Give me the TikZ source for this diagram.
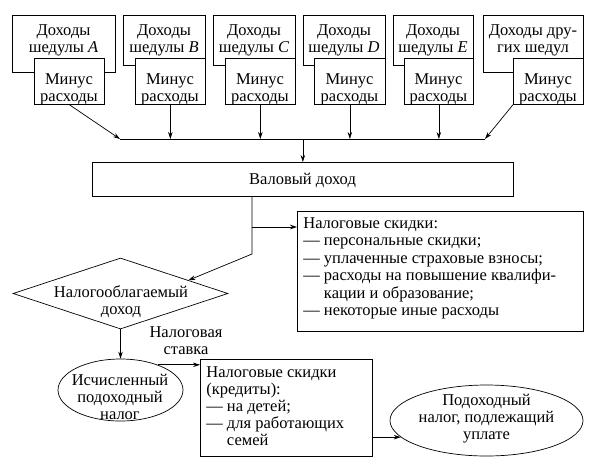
\documentclass[tikz,border=0pt]{standalone}
\usepackage{fontspec}
\setmainfont{Liberation Serif}
\usetikzlibrary{arrows.meta,shapes.geometric,calc}
\newcommand\rnode[6][]{\node[box,anchor=north west,minimum width={(#5-#3)*1pt},minimum height={(#6-#4)*1pt},#1] (#2) at (#3,#4) {};}
\newcommand\tc[1]{\begin{tabular}[t]{@{}c@{}}#1\end{tabular}}
\newcommand\tlft[1]{\begin{tabular}[t]{@{}l@{}}#1\end{tabular}}
\begin{document}
\begin{tikzpicture}[x=1pt,y=-1pt,
  font=\fontsize{16.5}{17}\selectfont,
  line width=0.7pt,
  box/.style={draw,fill=white,inner sep=0pt},
  txt/.style={inner sep=0pt,anchor=base},
  ltxt/.style={inner sep=0pt,anchor=base west},
  arr/.style={-{Stealth[length=7pt,width=4.5pt]}}]
\useasboundingbox (0,0) rectangle (608,467);
% schedule blocks
\rnode{oA}{12}{15}{115}{72}
\node[txt] (tA) at (63.5,35) {\tc{Доходы\\шедулы \textit{A}}};
\rnode{mA}{34}{58}{104}{104}
\node[txt] (uA) at (69,84) {\tc{Минус\\расходы}};
\rnode{oB}{123}{15}{205}{65}
\node[txt] (tB) at (164,35) {\tc{Доходы\\шедулы \textit{B}}};
\rnode{mB}{135}{58}{205}{104}
\node[txt] (uB) at (170,84) {\tc{Минус\\расходы}};
\rnode{oC}{213}{15}{295}{65}
\node[txt] (tC) at (254,35) {\tc{Доходы\\шедулы \textit{C}}};
\rnode{mC}{225}{58}{295}{104}
\node[txt] (uC) at (260,84) {\tc{Минус\\расходы}};
\rnode{oD}{303}{15}{385}{65}
\node[txt] (tD) at (344,35) {\tc{Доходы\\шедулы \textit{D}}};
\rnode{mD}{314}{58}{385}{104}
\node[txt] (uD) at (349.5,84) {\tc{Минус\\расходы}};
\rnode{oE}{393}{15}{473}{65}
\node[txt] (tE) at (433,35) {\tc{Доходы\\шедулы \textit{E}}};
\rnode{mE}{404}{58}{473}{104}
\node[txt] (uE) at (438.5,84) {\tc{Минус\\расходы}};
\rnode{oO}{483}{15}{583}{72}
\node[txt] (tO) at (533,35) {\tc{Доходы дру-\\гих шедул}};
\rnode{mO}{513}{58}{583}{104}
\node[txt] (uO) at (548,84) {\tc{Минус\\расходы}};
% collector line
\coordinate (L1) at (120,139);
\coordinate (L2) at (485,139);
\draw (L1) -- (L2);
\draw[arr] (mA.south) -- (L1);
\foreach \n in {mB,mC,mD,mE} \draw[arr] (\n.south) -- (\n.south |- L1);
\draw[arr] (mO.south west) -- (L2);
% gross income
\rnode{val}{92}{162}{513}{196}
\node[txt] (tval) at (302.5,184) {Валовый доход};
\draw[arr] (val.north |- L1) -- (val.north);
% deductions box
\rnode{ded}{297}{211}{583}{331}
\node[ltxt,font=\fontsize{16.5}{17.5}\selectfont] (tded) at (303,228) {\tlft{Налоговые скидки:\\
— персональные скидки;\\
— уплаченные страховые взносы;\\
— расходы на повышение квалифи-\\
\phantom{— }кации и образование;\\
— некоторые иные расходы}};
% diamond
\node[draw,diamond,inner sep=0pt,minimum width=215pt,minimum height=71pt] (dia) at (120.5,293.5) {};
\node[txt] (tdia) at (121,297) {\tc{Налогооблагаемый\\доход}};
\coordinate (J1) at (252,254);
\coordinate (J2) at (252,227);
\coordinate (D1) at ($(dia.north)!0.63!(dia.east)$);
\draw[arr] (val.south -| J1) -- (J1) -- (D1);
\draw[arr] (J2) -- (J2 -| ded.west);
% computed tax
\node[draw,ellipse,inner sep=0pt,minimum width=125pt,minimum height=62pt] (e1) at (120.5,390) {};
\node[txt] (te1) at (120,385) {\tc{Исчисленный\\подоходный\\налог}};
\draw[arr] (dia.south) -- (e1.north);
\node[txt] (rate) at (186,337) {\tc{Налоговая\\ставка}};
% credits
\rnode{cred}{200}{359}{372}{456}
\node[ltxt] (tcred) at (206,377) {\tlft{Налоговые скидки\\
(кредиты):\\
— на детей;\\
— для работающих\\
\phantom{— }семей}};
\draw[arr] (e1.34) -- (e1.34 -| cred.west);
% final
\node[draw,ellipse,inner sep=0pt,minimum width=193pt,minimum height=71pt] (e2) at (486.5,420.5) {};
\node[txt] (te2) at (486.5,405.5) {\tc{Подоходный\\налог, подлежащий\\уплате}};
\draw[arr] (e2.191 -| cred.east) -- (e2.191);
\end{tikzpicture}
\end{document}
